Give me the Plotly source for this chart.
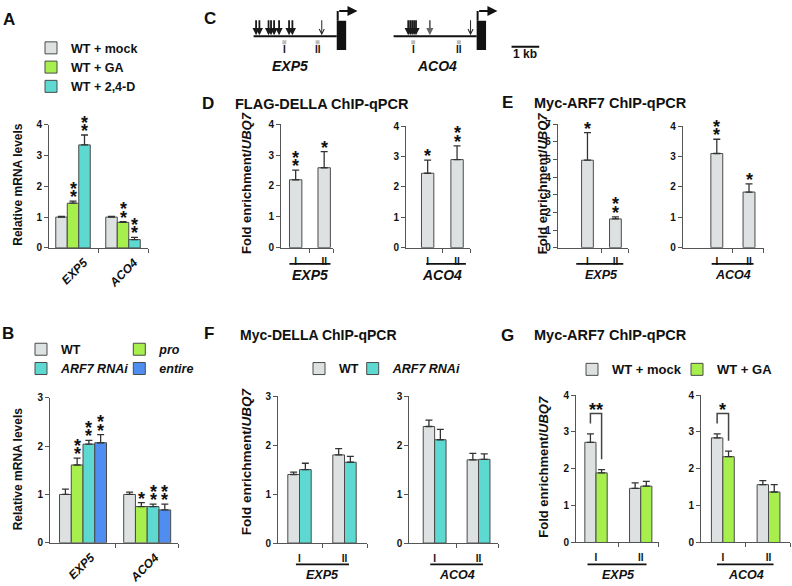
import plotly.graph_objects as go

W, H = 792, 586
FONT = "Liberation Sans, Arial, sans-serif"
INK = "#111111"
AXC = "#555555"
EDGE = "#4a4a4a"
ERRC = "#333333"
GREY, GREEN, CYAN, BLUE = "#dde1e1", "#a6ef4c", "#5dd9d1", "#4f8ef0"

# ---------------- data ----------------
# Panel A : relative mRNA levels
A_genes = ["EXP5", "ACO4"]
A_mock = [1.00, 1.00]
A_mock_err = [0.02, 0.02]
A_ga = [1.45, 0.83]
A_ga_err = [0.07, 0.02]
A_24d = [3.34, 0.27]
A_24d_err = [0.32, 0.07]
A_ga_sig = ["**", "**"]
A_24d_sig = ["**", "**"]

# Panel B : relative mRNA levels
B_genes = ["EXP5", "ACO4"]
B_wt = [1.00, 1.00]
B_wt_err = [0.11, 0.05]
B_pro = [1.61, 0.75]
B_pro_err = [0.14, 0.08]
B_rnai = [2.04, 0.75]
B_rnai_err = [0.08, 0.05]
B_entire = [2.07, 0.68]
B_entire_err = [0.17, 0.12]
B_pro_sig = ["**", "*"]
B_rnai_sig = ["**", "**"]
B_entire_sig = ["**", "**"]

# Panel C : promoter maps (kb relative to TSS)
PROMOTER_KB = 3.0
EXON_KB = 0.34
EXP5_sites = [-2.91, -2.79, -2.46, -2.37, -2.26, -2.08, -1.72, -1.60]
EXP5_sites_grey = []
EXP5_sites_thin = [-0.54]
EXP5_regions = [-1.89, -0.69]
ACO4_sites = [-2.47, -2.40, -2.33, -2.26, -2.19]
ACO4_sites_grey = [-1.69]
ACO4_sites_thin = [-0.22]
ACO4_regions = [-2.29, -0.64]
region_names = ["I", "II"]
SCALE_KB = 1.0

# Panels D-G : ChIP-qPCR fold enrichment
regions = ["I", "II"]
D_exp5 = [2.20, 2.59]
D_exp5_err = [0.31, 0.52]
D_exp5_sig = ["**", "*"]
D_aco4 = [2.45, 2.90]
D_aco4_err = [0.43, 0.45]
D_aco4_sig = ["*", "**"]

E_exp5 = [4.96, 1.63]
E_exp5_err = [1.56, 0.11]
E_exp5_sig = ["*", "**"]
E_aco4 = [3.10, 1.83]
E_aco4_err = [0.47, 0.27]
E_aco4_sig = ["**", "*"]

F_exp5_wt = [1.40, 1.80]
F_exp5_wt_err = [0.05, 0.13]
F_exp5_rnai = [1.50, 1.65]
F_exp5_rnai_err = [0.13, 0.12]
F_aco4_wt = [2.38, 1.70]
F_aco4_wt_err = [0.13, 0.13]
F_aco4_rnai = [2.11, 1.71]
F_aco4_rnai_err = [0.21, 0.11]

G_exp5_mock = [2.72, 1.47]
G_exp5_mock_err = [0.23, 0.15]
G_exp5_ga = [1.89, 1.53]
G_exp5_ga_err = [0.09, 0.13]
G_aco4_mock = [2.84, 1.57]
G_aco4_mock_err = [0.11, 0.11]
G_aco4_ga = [2.33, 1.37]
G_aco4_ga_err = [0.15, 0.20]
G_exp5_sig = "**"
G_aco4_sig = "*"

# ---------------- helpers ----------------
fig = go.Figure()
axes, legends = {}, {}
annotations, shapes = [], []


def xn(i): return "x" if i == 1 else f"x{i}"
def yn(i): return "y" if i == 1 else f"y{i}"
def xk(i): return "xaxis" if i == 1 else f"xaxis{i}"
def yk(i): return "yaxis" if i == 1 else f"yaxis{i}"
def PX(p): return p / W
def PY(p): return 1 - p / H


def txt(text, x, y, size, xref="paper", yref="paper", xanchor="center",
        yanchor="middle", angle=0, yshift=0, color=INK):
    annotations.append(dict(text=text, x=x, y=y, xref=xref, yref=yref,
                            xanchor=xanchor, yanchor=yanchor, textangle=angle,
                            yshift=yshift, showarrow=False,
                            font=dict(family=FONT, size=size, color=color)))


def bar_axes(i, xpx, ypx, xr, yr, labels, angle=0, shift=0, standoff=3, lsize=10):
    axes[xk(i)] = dict(
        domain=[PX(xpx[0]), PX(xpx[1])], range=list(xr),
        anchor="free", position=PY(ypx[0]),
        showline=True, linecolor=AXC, linewidth=1, showgrid=False, zeroline=False,
        tickmode="array", tickvals=list(range(len(labels))), ticktext=labels,
        ticks="", tickangle=angle, ticklabelshift=shift, ticklabelstandoff=standoff,
        tickfont=dict(family=FONT, size=lsize, color=INK, weight="bold"),
        minor=dict(tickmode="array", tickvals=[0.5, xr[1] - 1e-6], ticks="outside",
                   ticklen=4, tickwidth=1, tickcolor=AXC, showgrid=False),
        fixedrange=True)
    axes[yk(i)] = dict(
        domain=[PY(ypx[0]), PY(ypx[1])], range=list(yr),
        anchor="free", position=PX(xpx[0]),
        showline=True, linecolor=AXC, linewidth=1, showgrid=False, zeroline=False,
        tickmode="linear", tick0=0, dtick=1, ticks="outside", ticklen=4,
        tickwidth=1, tickcolor=AXC,
        tickfont=dict(family=FONT, size=10, color=INK, weight="bold"),
        fixedrange=True)


STAR_SIZE, STAR_BASE, STAR_STEP = 18, 4, 8.5


def stack_stars(i, x, top, sig):
    for k in range(len(sig)):
        txt("<b>*</b>", x, top, STAR_SIZE, xref=xn(i), yref=yn(i),
            yshift=STAR_BASE + k * STAR_STEP)


def add_bars(i, series, w):
    n = len(series)
    centers = []
    for k, s in enumerate(series):
        off = -n * w / 2 + k * w
        xs = list(range(len(s["y"])))
        centers.append([x + off + w / 2 for x in xs])
        fig.add_trace(go.Bar(
            x=xs, y=s["y"], width=w, offset=off, name=s["name"],
            marker=dict(color=s["color"], line=dict(color=EDGE, width=1)),
            error_y=dict(type="data", symmetric=False, array=s["err"],
                         arrayminus=[0] * len(xs), color=ERRC, thickness=1.3, width=3.5),
            xaxis=xn(i), yaxis=yn(i), legend=s.get("legend", "legend"),
            showlegend=s.get("show", False), hoverinfo="skip"))
        for j, sg in enumerate(s.get("sig") or []):
            if sg:
                stack_stars(i, centers[-1][j], s["y"][j] + s["err"][j], sg)
    return centers


LEG_DX = 19


def legend_at(key, box_left_px, center_px, size=12.5):
    legends[key] = dict(x=PX(box_left_px - LEG_DX), y=PY(center_px), xanchor="left",
                        yanchor="middle", bgcolor="rgba(0,0,0,0)",
                        font=dict(family=FONT, size=size, color=INK, weight="bold"),
                        tracegroupgap=0, traceorder="normal")


def gene_under(i, gene, lo, hi, line_px, name_px, size):
    shapes.append(dict(type="line", xref=xn(i), yref="paper", x0=lo, x1=hi,
                       y0=PY(line_px), y1=PY(line_px), line=dict(color=INK, width=1.6)))
    txt(f"<b><i>{gene}</i></b>", 0.5, PY(name_px), size, xref=xn(i))


def bracket(i, xa, xb, top_a, top_b, sig, gap=0.28, rise=0.27):
    ya = top_a + gap
    yb = top_b + gap
    yt = max(ya, yb) + rise
    shapes.append(dict(type="path", xref=xn(i), yref=yn(i),
                       path=f"M{xa},{ya} L{xa},{yt} L{xb},{yt} L{xb},{yb}",
                       line=dict(color="#444444", width=1.5)))
    txt(f"<b>{sig}</b>", (xa + xb) / 2, yt, STAR_SIZE, xref=xn(i), yref=yn(i), yshift=STAR_BASE)


# ---------------- Panel A ----------------
bar_axes(1, (48, 148), (247, 121), (-0.5, 1.5), (0, 4),
         [f"<i>{g}</i>" for g in A_genes], angle=-45, shift=11, standoff=2, lsize=12)
add_bars(1, [
    dict(name="WT + mock", y=A_mock, err=A_mock_err, color=GREY, show=True),
    dict(name="WT + GA", y=A_ga, err=A_ga_err, color=GREEN, show=True, sig=A_ga_sig),
    dict(name="WT + 2,4-D", y=A_24d, err=A_24d_err, color=CYAN, show=True, sig=A_24d_sig),
], w=0.23)
legend_at("legend", 50, 62.5)
txt("<b>Relative mRNA levels</b>", PX(18), PY(182.5), 12, angle=-90)
txt("<b>A</b>", PX(8.5), PY(14), 17)

# ---------------- Panel B ----------------
bar_axes(2, (49, 178), (548, 400), (-0.53, 1.48), (0, 3),
         [f"<i>{g}</i>" for g in B_genes], angle=-45, shift=8, standoff=2, lsize=12)
add_bars(2, [
    dict(name="WT", y=B_wt, err=B_wt_err, color=GREY, show=True, legend="legend2"),
    dict(name="<i>pro</i>", y=B_pro, err=B_pro_err, color=GREEN, show=True,
         legend="legend3", sig=B_pro_sig),
    dict(name="<i>ARF7 RNAi</i>", y=B_rnai, err=B_rnai_err, color=CYAN, show=True,
         legend="legend2", sig=B_rnai_sig),
    dict(name="<i>entire</i>", y=B_entire, err=B_entire_err, color=BLUE, show=True,
         legend="legend3", sig=B_entire_sig),
], w=0.183)
legend_at("legend2", 40, 360.5)
legend_at("legend3", 138.3, 360.5)
txt("<b>Relative mRNA levels</b>", PX(18), PY(473), 12, angle=-90)
txt("<b>B</b>", PX(7.5), PY(334), 17)

# ---------------- Panel C ----------------
C_specs = [
    (11, (240, 370), (-3.49, 1.2), "EXP5", -1.68, EXP5_sites, EXP5_sites_grey, EXP5_sites_thin, EXP5_regions),
    (12, (380, 560), (-3.49, 3.01), "ACO4", -1.43, ACO4_sites, ACO4_sites_grey, ACO4_sites_thin, ACO4_regions),
]
for i, xpx, xr, gene, gx, strong, grey, thin, regs in C_specs:
    axes[xk(i)] = dict(domain=[PX(xpx[0]), PX(xpx[1])], range=list(xr),
                       anchor="free", position=PY(70), visible=False, fixedrange=True)
    axes[yk(i)] = dict(domain=[PY(70), 1.0], range=[-1.95, 1.55],
                       anchor="free", position=PX(xpx[0]), visible=False, fixedrange=True)
    fig.add_trace(go.Scatter(x=[-PROMOTER_KB, 0], y=[0, 0], mode="lines",
                             line=dict(color=INK, width=2), xaxis=xn(i), yaxis=yn(i),
                             showlegend=False, hoverinfo="skip"))
    fig.add_trace(go.Scatter(x=regs, y=[-0.3] * len(regs), mode="markers",
                             marker=dict(symbol="square", size=4, color="#bbbbbb",
                                         line=dict(width=0)),
                             xaxis=xn(i), yaxis=yn(i), showlegend=False, hoverinfo="skip"))
    for r, rn in zip(regs, region_names):
        txt(f"<b>{rn}</b>", r, -0.68, 10, xref=xn(i), yref=yn(i))
    shapes.append(dict(type="rect", xref=xn(i), yref=yn(i), x0=0, x1=EXON_KB, y0=-0.7, y1=0.8,
                       fillcolor=INK, line=dict(width=0)))
    shapes.append(dict(type="line", xref=xn(i), yref=yn(i), x0=0.035, x1=0.035, y0=0.8, y1=1.3,
                       line=dict(color=INK, width=2)))
    annotations.append(dict(x=0.75, y=1.3, ax=0.035, ay=1.3, xref=xn(i), yref=yn(i),
                            axref=xn(i), ayref=yn(i), text="", showarrow=True,
                            arrowhead=2, arrowsize=1.0, arrowwidth=2, arrowcolor=INK))
    for group, col, head, aw, asz in ((strong, "#1a1a1a", 2, 1.8, 0.8),
                                      (grey, "#666666", 2, 1.8, 0.8),
                                      (thin, "#222222", 5, 1.0, 1.0)):
        for s in group:
            annotations.append(dict(x=s, y=0.06, ax=s, ay=0.9, xref=xn(i), yref=yn(i),
                                    axref=xn(i), ayref=yn(i), text="", showarrow=True,
                                    arrowhead=head, arrowsize=asz, arrowwidth=aw,
                                    arrowcolor=col))
    txt(f"<b><i>{gene}</i></b>", gx, -1.5, 14, xref=xn(i), yref=yn(i))

shapes.append(dict(type="line", xref="x12", yref="y12", x0=1.26, x1=1.26 + SCALE_KB,
                   y0=-0.53, y1=-0.53, line=dict(color=INK, width=1.8)))
txt("<b>1 kb</b>", 1.26 + SCALE_KB / 2, -0.9, 12, xref="x12", yref="y12")
txt("<b>C</b>", PX(210), PY(12.5), 17)

# ---------------- Panel D ----------------
bar_axes(3, (280, 333), (246.7, 120.7), (-0.55, 1.31), (0, 4), regions, standoff=4)
add_bars(3, [dict(name="FLAG-DELLA", y=D_exp5, err=D_exp5_err, color=GREY, sig=D_exp5_sig)], w=0.435)
bar_axes(4, (405, 470), (246.7, 122.7), (-0.77, 1.44), (0, 4), regions, standoff=4)
add_bars(4, [dict(name="FLAG-DELLA", y=D_aco4, err=D_aco4_err, color=GREY, sig=D_aco4_sig)], w=0.42)
gene_under(3, "EXP5", -0.22, 1.22, 263.3, 274.5, 14)
gene_under(4, "ACO4", -0.05, 1.3, 263.3, 274.5, 14)
txt("<b>Fold enrichment/<i>UBQ7</i></b>", PX(246.7), PY(181), 13, angle=-90)
txt("<b>FLAG-DELLA ChIP-qPCR</b>", PX(233.3), PY(100.5), 14.5, xanchor="left")
txt("<b>D</b>", PX(208), PY(100), 17)

# ---------------- Panel E ----------------
bar_axes(5, (556.7, 628.3), (246.7, 120.7), (-1.1, 1.46), (0, 7), regions, standoff=4)
add_bars(5, [dict(name="Myc-ARF7", y=E_exp5, err=E_exp5_err, color=GREY, sig=E_exp5_sig)], w=0.42)
bar_axes(6, (681.7, 763.5), (246.7, 122.7), (-1.09, 1.45), (0, 4), regions, standoff=4)
add_bars(6, [dict(name="Myc-ARF7", y=E_aco4, err=E_aco4_err, color=GREY, sig=E_aco4_sig)], w=0.37)
gene_under(5, "EXP5", -0.4, 1.28, 263.3, 274.5, 12.5)
gene_under(6, "ACO4", -0.16, 1.14, 263.3, 274.5, 12.5)
txt("<b>Fold enrichment/<i>UBQ7</i></b>", PX(542), PY(181), 13, angle=-90)
txt("<b>Myc-ARF7 ChIP-qPCR</b>", PX(531.7), PY(99.5), 14.5, xanchor="left")
txt("<b>E</b>", PX(507.5), PY(99), 17)

# ---------------- Panel F ----------------
bar_axes(7, (277, 367), (548.3, 398.3), (-0.5, 1.5), (0, 3), regions, standoff=6)
add_bars(7, [
    dict(name="WT", y=F_exp5_wt, err=F_exp5_wt_err, color=GREY, show=True, legend="legend4"),
    dict(name="<i>ARF7 RNAi</i>", y=F_exp5_rnai, err=F_exp5_rnai_err, color=CYAN, show=True,
         legend="legend5"),
], w=0.26)
bar_axes(8, (408.3, 498.3), (548.3, 398.3), (-0.6, 1.45), (0, 3), regions, standoff=6)
add_bars(8, [
    dict(name="WT", y=F_aco4_wt, err=F_aco4_wt_err, color=GREY),
    dict(name="<i>ARF7 RNAi</i>", y=F_aco4_rnai, err=F_aco4_rnai_err, color=CYAN),
], w=0.26)
gene_under(7, "EXP5", -0.08, 1.1, 570, 580.8, 12.5)
gene_under(8, "ACO4", -0.1, 1.1, 570, 580.8, 12.5)
legend_at("legend4", 318, 370.5)
legend_at("legend5", 371.7, 370.5)
txt("<b>Fold enrichment/<i>UBQ7</i></b>", PX(246.7), PY(465), 13.5, angle=-90)
txt("<b>Myc-DELLA ChIP-qPCR</b>", PX(238.3), PY(336), 14, xanchor="left")
txt("<b>F</b>", PX(209), PY(334), 17)

# ---------------- Panel G ----------------
bar_axes(9, (575, 658.6), (547.7, 397.3), (-0.47, 1.4), (0, 4), regions, standoff=6)
cG1 = add_bars(9, [
    dict(name="WT + mock", y=G_exp5_mock, err=G_exp5_mock_err, color=GREY, show=True, legend="legend6"),
    dict(name="WT + GA", y=G_exp5_ga, err=G_exp5_ga_err, color=GREEN, show=True, legend="legend7"),
], w=0.25)
bar_axes(10, (700, 790), (547.7, 397.3), (-0.5, 1.47), (0, 4), regions, standoff=6)
cG2 = add_bars(10, [
    dict(name="WT + mock", y=G_aco4_mock, err=G_aco4_mock_err, color=GREY),
    dict(name="WT + GA", y=G_aco4_ga, err=G_aco4_ga_err, color=GREEN),
], w=0.25)
bracket(9, cG1[0][0], cG1[1][0], G_exp5_mock[0] + G_exp5_mock_err[0],
        G_exp5_ga[0] + G_exp5_ga_err[0], G_exp5_sig)
bracket(10, cG2[0][0], cG2[1][0], G_aco4_mock[0] + G_aco4_mock_err[0],
        G_aco4_ga[0] + G_aco4_ga_err[0], G_aco4_sig)
gene_under(9, "EXP5", -0.19, 1.13, 570, 580.8, 12.5)
gene_under(10, "ACO4", -0.13, 1.11, 570, 580.8, 12.5)
legend_at("legend6", 591, 371, size=13)
legend_at("legend7", 696, 371, size=13)
txt("<b>Fold enrichment/<i>UBQ7</i></b>", PX(543.3), PY(470), 13, angle=-90)
txt("<b>Myc-ARF7 ChIP-qPCR</b>", PX(531.7), PY(336), 14.5, xanchor="left")
txt("<b>G</b>", PX(507), PY(336), 17)

fig.update_layout(
    width=W, height=H, autosize=False,
    margin=dict(l=0, r=0, t=0, b=0),
    paper_bgcolor="white", plot_bgcolor="rgba(0,0,0,0)",
    barmode="overlay", showlegend=True,
    font=dict(family=FONT, color=INK),
    annotations=annotations, shapes=shapes,
    **axes, **legends,
)

fig.write_html(
    "out.html",
    config={"displayModeBar": False},
    post_script="document.body.style.margin='0';document.body.style.overflow='hidden';",
)
